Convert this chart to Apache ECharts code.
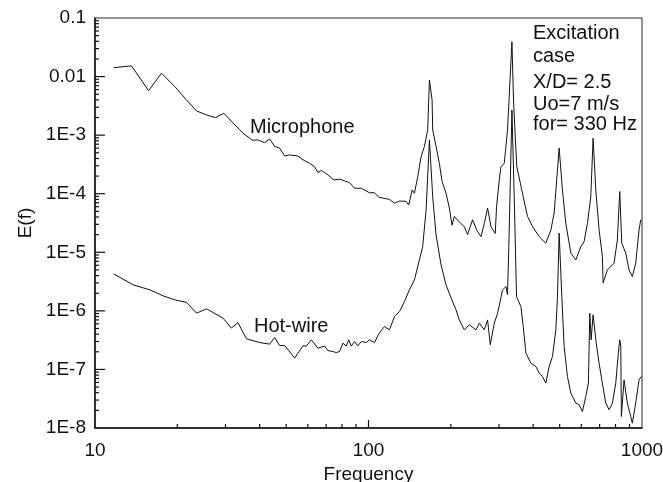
<!DOCTYPE html>
<html>
<head>
<meta charset="utf-8">
<script src="https://cdn.jsdelivr.net/npm/echarts@6/dist/echarts.min.js"></script>
<style>
  html, body { margin: 0; padding: 0; background: #fff; }
  #chart { width: 663px; height: 482px; }
</style>
</head>
<body>
<div id="chart"></div>
<script>
// spectra: frequency (Hz) and E(f)
const micFreq = [11.7, 13.6, 15.7, 17.5, 19.6, 21.6, 23.5, 25.6, 27.6, 29.6, 32.0, 34.8, 37.6, 39.4, 41.7, 43.5, 45.4, 47.3, 49.4, 51.5,
  55.2, 57.6, 60.9, 63.5, 65.3, 67.2, 71.0, 74.7, 78.4, 85.2, 88.9, 94.1, 100.8, 105.2, 109, 119.3, 124.5, 129.8, 137.3, 140.3,
  144.4, 147.2, 151.4, 155.7, 160.1, 164.6, 167.0, 170.8, 171.7, 176.6, 181.6, 185.8, 192.1, 197.5, 202.1, 206, 214.8, 224, 230.3, 240.2,
  248.5, 257.8, 265.1, 272.5, 280.4, 290.7, 293.9, 300.7, 305, 313.6, 322.4, 334.5, 339, 343, 348.5, 367.9, 381.4, 397.8, 420.9, 445.1,
  464.3, 477.3, 497.8, 511.8, 526.6, 549.3, 572.8, 597.4, 614.2, 631.5, 649.8, 662.5, 677.7, 696.8, 716.4, 720.7, 747.2, 790.4, 812.7, 829.2,
  843.3, 872.1, 896.7, 921.8, 948.4, 975.2, 989.2];
const micE = [1.42e-2, 1.52e-2, 5.74e-3, 1.14e-2, 6.73e-3, 3.99e-3, 2.59e-3, 2.21e-3, 1.99e-3, 2.37e-3, 1.60e-3, 1.08e-3, 8.2e-4, 8.3e-4, 7.45e-4, 8.6e-4, 6.4e-4, 6.0e-4, 4.4e-4, 4.6e-4,
  4.4e-4, 3.8e-4, 3.3e-4, 2.9e-4, 2.3e-4, 2.5e-4, 2.1e-4, 1.72e-4, 1.77e-4, 1.55e-4, 1.24e-4, 1.24e-4, 1.04e-4, 1.04e-4, 8.7e-5, 8.0e-5, 6.9e-5, 7.5e-5, 7.4e-5, 6.4e-5,
  1.16e-4, 1.02e-4, 1.96e-4, 4.3e-4, 6.4e-4, 1.23e-3, 8.75e-3, 3.99e-3, 1.23e-3, 6.4e-4, 3.3e-4, 1.61e-4, 1.02e-4, 5.7e-5, 2.9e-5, 4.1e-5, 3.3e-5, 2.75e-5, 2.0e-5, 3.6e-5,
  2.4e-5, 1.85e-5, 3.1e-5, 5.7e-5, 2.75e-5, 2.1e-5, 6.0e-5, 1.72e-4, 2.9e-4, 3.3e-4, 1.23e-3, 3.94e-2, 3.99e-3, 1.23e-3, 2.9e-4, 8.9e-5, 4.1e-5, 2.75e-5, 1.85e-5, 1.43e-5,
  2.4e-5, 4.65e-5, 6.0e-4, 1.16e-4, 3.1e-5, 9.7e-6, 7.4e-6, 1.25e-5, 1.52e-5, 3.1e-5, 8.9e-5, 8.85e-4, 1.16e-4, 2.4e-5, 8.5e-6, 3.0e-6, 5.0e-6, 6.5e-6, 1.63e-5, 1.09e-4,
  1.43e-5, 9.7e-6, 5.0e-6, 3.85e-6, 6.5e-6, 2.4e-5, 3.6e-5];

const hotFreq = [11.7, 13.8, 15.9, 17.75, 19.6, 21.6, 23.5, 25.6, 29.4, 31.5, 33.3, 35.8, 40.0, 43.5, 45.4, 47.3, 49.4, 53.7, 57.6, 59.2,
  61.8, 65.3, 69.1, 71.0, 74.1, 76.2, 78.4, 80.6, 82.9, 84.7, 86.5, 88.9, 91.4, 94.1, 98.1, 100.8, 105.2, 109, 114.4, 119.3,
  124.5, 129.8, 135.3, 141.1, 147.2, 153.5, 157.8, 162.4, 167.0, 171.7, 176.6, 184.2, 192.1, 200.4, 209, 214.8, 224, 233.7, 247.2, 254.2,
  265.1, 272.5, 278.8, 288.4, 296.5, 309.1, 318.1, 322.4, 327, 334.5, 341, 347.7, 360.8, 367.9, 376.3, 392.5, 409.3, 420.9, 432.7, 445.1,
  457.7, 470.6, 484.2, 490.8, 497.8, 509.2, 519.2, 533.8, 549.3, 572.8, 588.9, 605.5, 623, 636.8, 644.3, 651.4, 662.5, 677.7, 696.8, 712.8,
  737.1, 758, 779.3, 801.8, 819.5, 829.2, 836.3, 840.5, 859.7, 884, 909.7, 921.8, 948.4, 975.2, 994.3];
const hotE = [4.27e-6, 2.78e-6, 2.28e-6, 1.80e-6, 1.54e-6, 1.39e-6, 9.15e-7, 1.08e-6, 7.5e-7, 5.07e-7, 6.31e-7, 3.33e-7, 2.88e-7, 2.70e-7, 3.5e-7, 2.56e-7, 2.56e-7, 1.56e-7, 2.53e-7, 2.5e-7,
  3.2e-7, 2.31e-7, 2.5e-7, 2.1e-7, 2.02e-7, 1.94e-7, 2.02e-7, 2.81e-7, 2.5e-7, 3.2e-7, 2.5e-7, 2.99e-7, 2.53e-7, 2.99e-7, 2.88e-7, 3.2e-7, 2.88e-7, 4.05e-7, 5.4e-7, 4.74e-7,
  8.0e-7, 9.73e-7, 1.44e-6, 2.28e-6, 3.38e-6, 7.41e-6, 1.25e-5, 5.3e-5, 8.28e-4, 8.9e-5, 1.98e-5, 6.1e-6, 2.78e-6, 1.65e-6, 1.04e-6, 7.0e-7, 4.74e-7, 5.77e-7, 4.74e-7, 6.16e-7,
  4.74e-7, 7.0e-7, 2.63e-7, 6.16e-7, 9.14e-7, 2.28e-6, 2.6e-6, 1.88e-6, 2.41e-5, 2.69e-3, 8.9e-5, 1.75e-6, 1.18e-6, 5.4e-7, 1.9e-7, 1.28e-7, 1.12e-7, 8.65e-8, 7.57e-8, 5.84e-8,
  1.12e-7, 1.66e-7, 4.74e-7, 1.75e-6, 2.12e-5, 1.75e-6, 2.46e-7, 7.57e-8, 3.94e-8, 2.66e-8, 2.49e-8, 1.91e-8, 3.45e-8, 5.84e-8, 9.14e-7, 3.2e-7, 8.55e-7, 3.2e-7, 1.28e-7, 6.64e-8,
  2.66e-8, 2.05e-8, 2.66e-8, 5.84e-8, 1.9e-7, 3.2e-7, 2.5e-7, 1.57e-8, 6.64e-8, 2.66e-8, 1.57e-8, 1.21e-8, 2.66e-8, 6.64e-8, 7.57e-8];

// tick values: decades get long ticks, values in between short ones
const xMajorTicks = [100];
const xMinorTicks = [20, 30, 40, 50, 60, 70, 80, 90, 200, 300, 400, 500, 600, 700, 800, 900];
const yMajorTicks = [1e-7, 1e-6, 1e-5, 1e-4, 1e-3, 1e-2];
const yMinorTicks = [];
for (let e = -8; e < -1; e++) {
  for (let m = 2; m <= 9; m++) yMinorTicks.push(m * Math.pow(10, e));
}

const notes = ['Excitation', 'case', 'X/D= 2.5', 'Uo=7 m/s', 'for= 330 Hz'];

const FONT = '"Liberation Sans", Arial, Helvetica, sans-serif';
const INK = '#111';
const X_MIN = 10, X_MAX = 1000, Y_MIN = 1e-8, Y_MAX = 0.1;

function yLabel(v) {
  const e = Math.round(Math.log10(v));
  if (e === -1) return '0.1';
  if (e === -2) return '0.01';
  return '1E' + e;
}

function zip(xs, ys) {
  return xs.map((x, i) => [x, ys[i]]);
}

// inward tick drawn at an axis value, placed by the chart's own scales
function tickSeries(values, onX, len) {
  return {
    type: 'custom', silent: true, clip: false, z: 5,
    data: values.map(v => onX ? [v, Y_MIN] : [X_MIN, v]),
    renderItem: function (params, api) {
      const p = api.coord([api.value(0), api.value(1)]);
      const shape = onX
        ? { x1: p[0], y1: p[1], x2: p[0], y2: p[1] - len }
        : { x1: p[0], y1: p[1], x2: p[0] + len, y2: p[1] };
      return { type: 'line', shape: shape, style: { stroke: INK, lineWidth: 1.2 } };
    }
  };
}

const chart = echarts.init(document.getElementById('chart'));

const noteTop = [33, 56, 82, 104, 124];
const graphics = notes.map((t, i) => ({
  type: 'text',
  left: 533,
  top: noteTop[i] - 10,
  style: { text: t, font: '20px ' + FONT, fill: INK }
}));
graphics.push({ type: 'text', left: 250, top: 117, style: { text: 'Microphone', font: '20px ' + FONT, fill: INK } });
graphics.push({ type: 'text', left: 254, top: 316, style: { text: 'Hot-wire', font: '20px ' + FONT, fill: INK } });

const option = {
  animation: false,
  backgroundColor: '#fff',
  grid: {
    left: 95, right: 21, top: 18, bottom: 54, outerBoundsMode: 'none',
    show: true, borderColor: '#222', borderWidth: 1
  },
  xAxis: {
    type: 'log', logBase: 10, min: X_MIN, max: X_MAX, interval: 1,
    name: 'Frequency', nameLocation: 'middle', nameGap: 35,
    nameTextStyle: { fontFamily: FONT, fontSize: 19, color: INK },
    axisLine: { show: true, lineStyle: { color: INK, width: 1.5 } },
    axisTick: { show: false },
    axisLabel: { fontFamily: FONT, fontSize: 19, color: INK, margin: 13, formatter: v => String(Math.round(v)) },
    splitLine: { show: false }
  },
  yAxis: {
    type: 'log', logBase: 10, min: Y_MIN, max: Y_MAX, interval: 1,
    name: 'E(f)', nameLocation: 'middle', nameGap: 60,
    nameTextStyle: { fontFamily: FONT, fontSize: 19, color: INK },
    axisLine: { show: true, lineStyle: { color: INK, width: 1.5 } },
    axisTick: { show: false },
    axisLabel: { fontFamily: FONT, fontSize: 19, color: INK, margin: 9, formatter: yLabel },
    splitLine: { show: false }
  },
  series: [{
    name: 'Microphone', type: 'line', data: zip(micFreq, micE),
    showSymbol: false, symbol: 'none', silent: true,
    lineStyle: { color: INK, width: 1 }
  }, {
    name: 'Hot-wire', type: 'line', data: zip(hotFreq, hotE),
    showSymbol: false, symbol: 'none', silent: true,
    lineStyle: { color: INK, width: 1 }
  },
  tickSeries(xMajorTicks, true, 8),
  tickSeries(xMinorTicks, true, 4),
  tickSeries(yMajorTicks, false, 10),
  tickSeries(yMinorTicks, false, 4)],
  graphic: graphics
};

chart.setOption(option);
</script>
</body>
</html>
